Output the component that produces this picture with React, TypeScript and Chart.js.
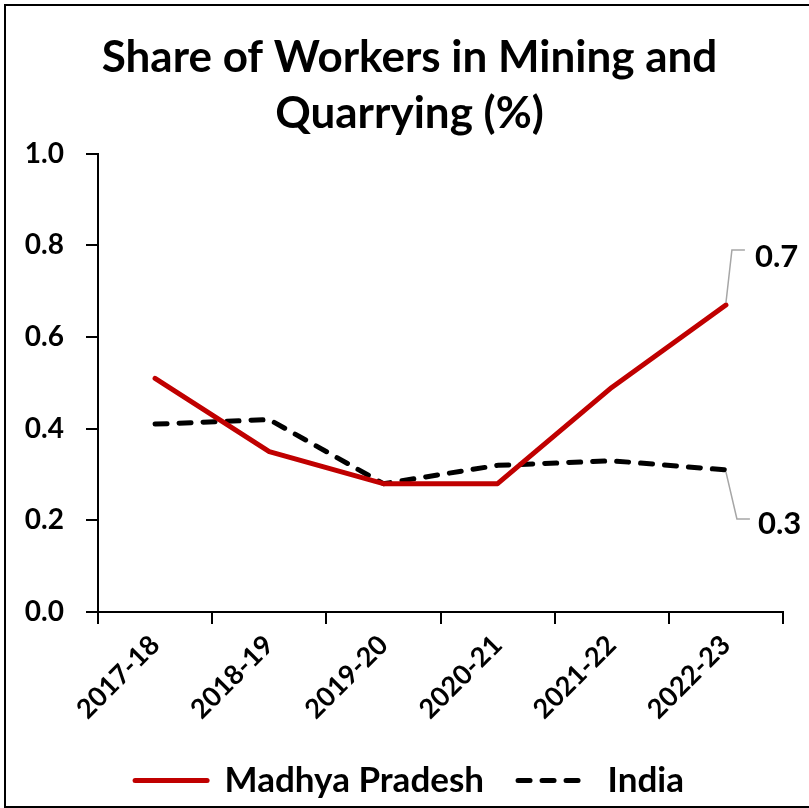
import { useEffect, useRef } from 'react';
import { Chart, registerables } from 'chart.js';

Chart.register(...registerables);

const categories = ['2017-18', '2018-19', '2019-20', '2020-21', '2021-22', '2022-23'];
const madhyaPradesh = [0.51, 0.35, 0.28, 0.28, 0.49, 0.67];
const india = [0.41, 0.42, 0.28, 0.32, 0.33, 0.31];
const yMin = 0;
const yMax = 1.0;
const yStep = 0.2;
const titleLines = ['Share of Workers in Mining and', 'Quarrying (%)'];

const FONT = 'Lato, "Open Sans", "DejaVu Sans", sans-serif';

const framePlugin = {
  id: 'frame',
  afterDraw(chart: any) {
    const { ctx } = chart;
    ctx.save();
    ctx.strokeStyle = '#000';
    ctx.lineWidth = 2;
    ctx.strokeRect(5, 5, chart.width + 10, chart.height - 6);
    ctx.restore();
  },
};

const leaderOffsets = [
  { dx: 6, dy: -55, tx: 23 },
  { dx: 11, dy: 49, tx: 21 },
];

const endLabelPlugin = {
  id: 'endLabels',
  afterDatasetsDraw(chart: any) {
    const { ctx } = chart;
    chart.data.datasets.forEach((ds: any, i: number) => {
      const meta = chart.getDatasetMeta(i);
      const n = meta.data.length;
      const pt = meta.data[n - 1];
      const off = leaderOffsets[i];
      const v = ds.data[n - 1] as number;
      const cx = pt.x + off.dx;
      const cy = pt.y + off.dy;
      ctx.save();
      ctx.strokeStyle = '#a6a6a6';
      ctx.lineWidth = 1.5;
      ctx.beginPath();
      ctx.moveTo(pt.x, pt.y + (off.dy < 0 ? -2 : 2));
      ctx.lineTo(cx, cy);
      ctx.lineTo(cx + 13, cy);
      ctx.stroke();
      ctx.fillStyle = '#000';
      ctx.font = `bold 31px ${FONT}`;
      ctx.textAlign = 'left';
      ctx.textBaseline = 'middle';
      ctx.fillText(v.toFixed(1), cx + off.tx, cy + (off.dy < 0 ? 7 : 5));
      ctx.restore();
    });
  },
};

export default function App() {
  const ref = useRef<HTMLCanvasElement>(null);
  useEffect(() => {
    document.body.style.margin = '0';
    const chart = new Chart(ref.current as HTMLCanvasElement, {
      type: 'line',
      data: {
        labels: categories,
        datasets: [
          {
            label: 'Madhya Pradesh',
            data: madhyaPradesh,
            borderColor: '#C00000',
            backgroundColor: '#C00000',
            borderWidth: 5,
            pointRadius: 0,
            tension: 0,
            borderCapStyle: 'round',
            borderJoinStyle: 'round',
          },
          {
            label: 'India',
            data: india,
            borderColor: '#000000',
            backgroundColor: '#000000',
            borderWidth: 5,
            borderDash: [12, 12],
            pointRadius: 0,
            tension: 0,
            borderCapStyle: 'round',
            borderJoinStyle: 'round',
          },
        ],
      },
      options: {
        animation: false,
        responsive: false,
        layout: { padding: { top: 10, left: 10, right: 0, bottom: 0 } },
        scales: {
          x: {
            type: 'category',
            offset: true,
            afterFit(s: any) {
              s.height = 117;
            },
            grid: {
              offset: true,
              drawOnChartArea: false,
              drawTicks: true,
              tickLength: 12,
              color: '#000',
              lineWidth: 2,
            },
            border: { display: true, color: '#000', width: 2 },
            ticks: {
              color: '#000',
              font: { family: FONT, weight: 'bold', size: 27 },
              maxRotation: 45,
              minRotation: 45,
              padding: 5,
              autoSkip: false,
            },
          },
          y: {
            min: yMin,
            max: yMax,
            afterFit(s: any) {
              s.width = 88;
            },
            grid: {
              drawOnChartArea: false,
              drawTicks: true,
              tickLength: 12,
              color: '#000',
              lineWidth: 2,
            },
            border: { display: true, color: '#000', width: 2 },
            ticks: {
              stepSize: yStep,
              color: '#000',
              padding: 22,
              font: { family: FONT, weight: 'bold', size: 28 },
              callback: (v: any) => Number(v).toFixed(1),
            },
          },
          yRightSpace: {
            type: 'linear',
            position: 'right',
            display: true,
            afterFit(s: any) {
              s.width = 26;
            },
            grid: { display: false, drawTicks: false },
            border: { display: false },
            ticks: { display: false },
          },
        },
        plugins: {
          title: {
            display: true,
            text: titleLines,
            color: '#000',
            font: { family: FONT, weight: 'bold', size: 44, lineHeight: 1.27 },
            padding: { top: 20, bottom: 12 },
          },
          legend: {
            display: true,
            position: 'bottom',
            labels: {
              color: '#000',
              font: { family: FONT, weight: 'bold', size: 35 },
              usePointStyle: true,
              pointStyle: 'line',
              pointStyleWidth: 72,
              padding: 34,
              generateLabels(chart: any) {
                const items = Chart.defaults.plugins.legend.labels.generateLabels(chart);
                return items.map((it: any) => {
                  const ds = chart.data.datasets[it.datasetIndex];
                  return {
                    ...it,
                    pointStyle: 'line',
                    lineDash: ds.borderDash || [],
                    lineCap: 'round',
                    lineWidth: 5,
                    strokeStyle: ds.borderColor,
                    fillStyle: ds.borderColor,
                  };
                });
              },
            },
          },
          tooltip: { enabled: false },
        },
      },
      plugins: [framePlugin, endLabelPlugin],
    } as any);
    return () => chart.destroy();
  }, []);
  return <canvas ref={ref} width={809} height={808} style={{ display: 'block' }} />;
}
